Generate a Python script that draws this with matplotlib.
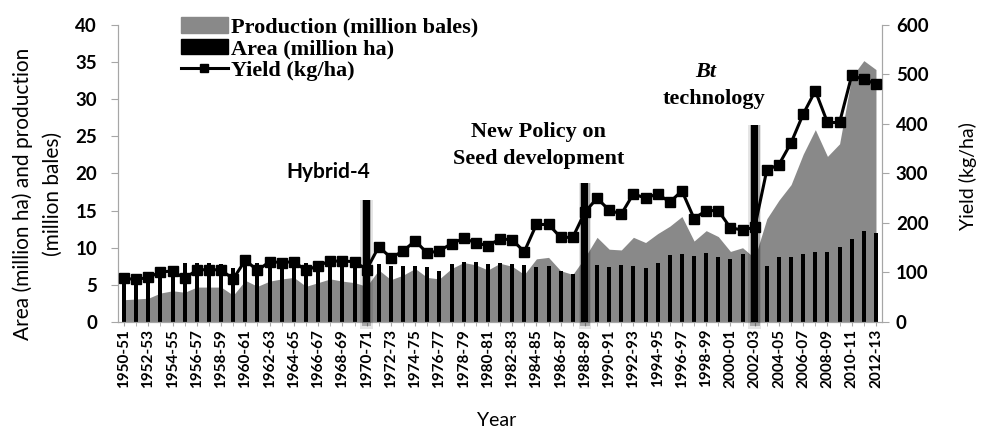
import matplotlib.pyplot as plt
from matplotlib.patches import Patch
from matplotlib.lines import Line2D
import numpy as np

years = [f'{y}-{(y + 1) % 100:02d}' for y in range(1950, 2013)]

# million bales
production = [3.0, 3.1, 3.2, 3.9, 4.2, 4.0, 4.7, 4.7, 4.7, 3.6,
              5.6, 4.8, 5.5, 5.8, 6.0, 4.8, 5.3, 5.8, 5.5, 5.3,
              4.8, 7.0, 5.7, 6.3, 7.2, 6.0, 5.8, 7.2, 8.0, 7.7,
              7.0, 7.9, 7.5, 6.4, 8.5, 8.7, 6.9, 6.4, 8.7, 11.4,
              9.8, 9.7, 11.4, 10.7, 11.9, 12.9, 14.2, 10.9, 12.3, 11.5,
              9.5, 10.0, 8.6, 13.9, 16.4, 18.5, 22.6, 25.9, 22.3, 24.0,
              33.0, 35.2, 34.0]

# million ha
area = [5.9, 6.2, 6.0, 6.7, 7.0, 8.0, 7.9, 8.0, 7.8, 7.3,
        7.6, 7.9, 7.7, 8.1, 8.3, 7.9, 7.8, 8.0, 7.7, 7.7,
        7.6, 7.8, 7.5, 7.6, 7.6, 7.4, 6.9, 7.8, 8.1, 8.1,
        7.8, 8.0, 7.8, 7.7, 7.4, 7.5, 6.9, 6.4, 7.3, 7.7,
        7.4, 7.7, 7.5, 7.3, 7.9, 9.0, 9.1, 8.9, 9.3, 8.7,
        8.5, 9.1, 7.7, 7.6, 8.8, 8.7, 9.1, 9.4, 9.4, 10.1,
        11.2, 12.2, 12.0]

# kg/ha
yield_kg = [88, 86, 90, 101, 103, 88, 105, 106, 105, 87,
            125, 104, 122, 120, 122, 104, 114, 123, 123, 122,
            106, 152, 130, 143, 164, 139, 144, 158, 169, 160,
            154, 168, 166, 142, 197, 197, 171, 171, 222, 250,
            226, 218, 259, 250, 259, 242, 265, 209, 225, 225,
            190, 186, 191, 307, 318, 362, 420, 467, 403, 403,
            498, 490, 481]

# milestone markers (index into years, top on yield axis)
event_idx = [20, 38, 52]
event_top = [246, 281, 398]

sans = 'Lato'
serif = 'Liberation Serif'
grey = '#898989'
spine_c = '#a6a6a6'

fig = plt.figure(figsize=(9.82, 4.33), dpi=100)
ax = fig.add_axes([0.1202, 0.2564, 0.778, 0.6859])
ax2 = ax.twinx()

x = np.arange(len(years))
ax.fill_between(x, production, color=grey, lw=0, zorder=1)
ax.bar(x, area, width=0.33, color='black', zorder=2)
ax2.plot(x, yield_kg, color='black', lw=2.2, marker='s', ms=7, zorder=3)

for i, top in zip(event_idx, event_top):
    ax2.bar(i, top + 14, bottom=-14, width=1.05, color='black', alpha=0.10, zorder=4, clip_on=False)
    ax2.bar(i, top + 8, bottom=-8, width=0.8, color='black', alpha=0.25, zorder=4, clip_on=False)
    ax2.bar(i, top, width=0.58, color='black', zorder=5)

ax.set_xlim(-0.5, 62.5)
ax.set_ylim(0, 40)
ax2.set_ylim(0, 600)
ax.set_yticks(np.arange(0, 41, 5))
ax2.set_yticks(np.arange(0, 601, 100))

ax.set_xticks(x[::2])
ax.set_xticklabels(years[::2], rotation=90, fontweight='bold', fontsize=11, family=sans)
ax.set_xticks(x, minor=True)
ax.tick_params(axis='x', which='both', length=3, color=spine_c, pad=2)
ax.tick_params(axis='y', length=5, color=spine_c, pad=10)
ax2.tick_params(axis='y', length=5, color=spine_c, pad=5)
for t in ax.get_yticklabels() + ax2.get_yticklabels():
    t.set_fontweight('bold')
    t.set_fontsize(13.5)
    t.set_family(sans)

for a in (ax, ax2):
    a.spines['top'].set_visible(False)
    for s in ('left', 'right', 'bottom'):
        a.spines[s].set_color(spine_c)

fig.text(0.038, 0.552, 'Area (million ha) and production\n(million bales)', rotation=90,
         ha='center', va='center', fontsize=15, family=sans, linespacing=1.6)
fig.text(0.986, 0.594, 'Yield (kg/ha)', rotation=90, ha='center', va='center',
         fontsize=14, family=sans)
fig.text(0.506, 0.03, 'Year', ha='center', va='center', fontsize=14, family=sans)

ax.text(16.8, 20.2, 'Hybrid-4', ha='center', va='center', fontsize=15,
        fontweight='bold', family=sans)
ax.text(34.2, 25.6, 'New Policy on', ha='center', va='center', fontsize=16,
        fontweight='bold', family=serif)
ax.text(34.2, 22.0, 'Seed development', ha='center', va='center', fontsize=16,
        fontweight='bold', family=serif)
ax.text(48.0, 33.7, 'Bt', ha='center', va='center', fontsize=16,
        fontweight='bold', style='italic', family=serif)
ax.text(48.6, 30.0, 'technology', ha='center', va='center', fontsize=16,
        fontweight='bold', family=serif)

handles = [Patch(color=grey), Patch(color='black'),
           Line2D([], [], color='black', lw=2.2, marker='s', ms=6)]
labels = ['Production (million bales)', 'Area (million ha)', 'Yield (kg/ha)']
ax2.legend(handles, labels, loc='upper left', bbox_to_anchor=(181 / 982, 1 - 17 / 433),
           bbox_transform=fig.transFigure, frameon=False, borderpad=0, borderaxespad=0,
           handlelength=2.1, handletextpad=0.15, labelspacing=0.05,
           prop={'family': serif, 'weight': 'bold', 'size': 16})

fig.savefig('out.png', dpi=100)
